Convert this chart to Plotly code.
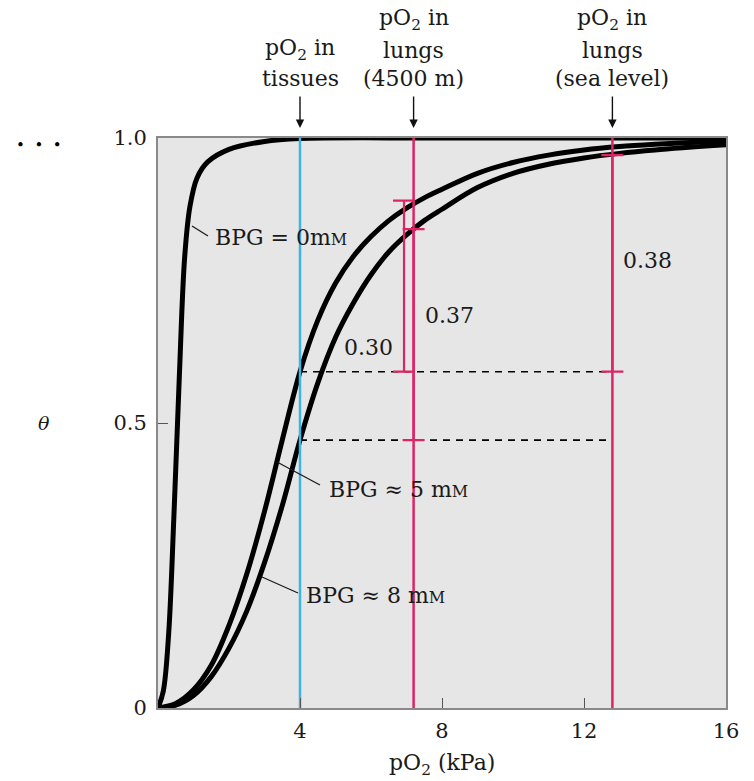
import plotly.graph_objects as go

# Oxygen-binding curves of haemoglobin at three BPG concentrations
po2_bpg0 = [0, 0.15, 0.3, 0.45, 0.6, 0.75, 0.9, 1.1, 1.4, 2.0, 3.0, 4.0, 8.0, 16.0]
theta_bpg0 = [0, 0.03, 0.13, 0.34, 0.58, 0.79, 0.88, 0.93, 0.958, 0.98, 0.994, 0.999, 1.0, 1.0]

po2_bpg5 = [0, 0.5, 1.0, 1.5, 2.0, 2.5, 3.0, 3.5, 4.0, 4.5, 5.0, 5.5, 6.0, 6.5, 7.0, 7.5, 8.0,
            9.0, 10.0, 11.0, 12.0, 13.0, 14.0, 16.0]
theta_bpg5 = [0, 0.008, 0.032, 0.075, 0.145, 0.235, 0.345, 0.47, 0.59, 0.68, 0.745, 0.792, 0.827,
              0.855, 0.877, 0.895, 0.91, 0.938, 0.957, 0.97, 0.979, 0.985, 0.989, 0.995]

po2_bpg8 = [0, 0.5, 1.0, 1.5, 2.0, 2.5, 3.0, 3.5, 4.0, 4.5, 5.0, 5.5, 6.0, 6.5, 7.0, 7.5, 8.0,
            9.0, 10.0, 11.0, 12.0, 13.0, 14.0, 16.0]
theta_bpg8 = [0, 0.005, 0.022, 0.055, 0.105, 0.17, 0.255, 0.355, 0.47, 0.57, 0.65, 0.71, 0.76,
              0.80, 0.83, 0.855, 0.875, 0.913, 0.938, 0.954, 0.965, 0.973, 0.979, 0.988]

# Reference pO2 values (kPa)
po2_tissues = 4.0
po2_lungs_4500 = 7.2
po2_lungs_sea = 12.8

# Saturation in tissues and the amounts of O2 delivered
theta_tissue_bpg5 = 0.59
theta_tissue_bpg8 = 0.47
delivered_4500_bpg5 = 0.30
delivered_4500_bpg8 = 0.37
delivered_sea_bpg5 = 0.38

x_ticks = [4, 8, 12, 16]
y_ticks = [0, 0.5, 1.0]
y_tick_text = ["0", "0.5", "1.0"]

SERIF = "DejaVu Serif"
INK = "#1a1a1a"
BLACK = "#000000"
CYAN = "#3fb3e6"
MAGENTA = "#dc2466"
TEXT_SIZE = 22
W, H = 754, 781
L, R, T, B = 158, 28, 138, 73


def paper_xy(px, py):
    """Convert a pixel position on the page into paper coordinates."""
    return (px - L) / (W - L - R), (H - B - py) / (H - T - B)


fig = go.Figure()

for xs, ys in [(po2_bpg0, theta_bpg0), (po2_bpg5, theta_bpg5), (po2_bpg8, theta_bpg8)]:
    fig.add_trace(go.Scatter(x=xs, y=ys, mode="lines",
                             line=dict(color=BLACK, width=5, shape="spline", smoothing=1.0),
                             hoverinfo="skip", showlegend=False))

# Dashed saturation levels in the tissues
for level in [theta_tissue_bpg5, theta_tissue_bpg8]:
    fig.add_trace(go.Scatter(x=[po2_tissues, po2_lungs_sea], y=[level, level], mode="lines",
                             line=dict(color=BLACK, width=1.6, dash="7px,6px"),
                             hoverinfo="skip", showlegend=False))

# Vertical pO2 markers
fig.add_trace(go.Scatter(x=[po2_tissues, po2_tissues], y=[0, 1], mode="lines",
                         line=dict(color=CYAN, width=2.5), hoverinfo="skip", showlegend=False))
for xv in [po2_lungs_4500, po2_lungs_sea]:
    fig.add_trace(go.Scatter(x=[xv, xv], y=[0, 1], mode="lines",
                             line=dict(color=MAGENTA, width=2.5), hoverinfo="skip", showlegend=False))

# Delivered-oxygen bars with end caps
bars = [
    (po2_lungs_4500 - 0.27, theta_tissue_bpg5, delivered_4500_bpg5),
    (po2_lungs_4500, theta_tissue_bpg8, delivered_4500_bpg8),
    (po2_lungs_sea, theta_tissue_bpg5, delivered_sea_bpg5),
]
for bx, base, delta in bars:
    fig.add_trace(go.Scatter(x=[bx], y=[base], mode="markers",
                             marker=dict(size=1, color="rgba(0,0,0,0)"),
                             error_y=dict(type="data", symmetric=False, array=[delta], arrayminus=[0],
                                          width=11, thickness=2.2, color=MAGENTA),
                             hoverinfo="skip", showlegend=False))

annotations = []


def label(text, px, py, size=TEXT_SIZE, xanchor="center", color=INK):
    xp, yp = paper_xy(px, py)
    annotations.append(dict(x=xp, y=yp, xref="paper", yref="paper", text=text, showarrow=False,
                            xanchor=xanchor, yanchor="middle",
                            font=dict(family=SERIF, size=size, color=color)))


# Value labels next to the bars
label(f"{delivered_4500_bpg5:.2f}", 368, 347)
label(f"{delivered_4500_bpg8:.2f}", 449, 315)
label(f"{delivered_sea_bpg5:.2f}", 647, 260)

# Curve labels with leader lines
small_m = "m<span style='font-size:16px'>M</span>"
for text, tx, ty, lx0, ly0, lx1, ly1 in [
    ("BPG = 0" + small_m, 213, 237, 192, 226, 208, 236),
    ("BPG ≈ 5 " + small_m, 327, 490, 277, 462, 320, 485),
    ("BPG ≈ 8 " + small_m, 304, 595, 262, 577, 298, 593),
]:
    label(text, tx, ty, xanchor="left")
    x0, y0 = paper_xy(lx0, ly0)
    x1, y1 = paper_xy(lx1, ly1)
    fig.add_shape(type="line", xref="paper", yref="paper", x0=x0, y0=y0, x1=x1, y1=y1,
                  line=dict(color=INK, width=1.3))

# Headers above the plot
headers = [
    (po2_tissues, ["pO<sub>2</sub> in", "tissues"], [50, 79]),
    (po2_lungs_4500, ["pO<sub>2</sub> in", "lungs", "(4500 m)"], [19, 51, 79]),
    (po2_lungs_sea, ["pO<sub>2</sub> in", "lungs", "(sea level)"], [19, 51, 79]),
]
for xv, lines, ys in headers:
    for line, py in zip(lines, ys):
        _, yp = paper_xy(0, py)
        annotations.append(dict(x=xv, y=yp, xref="x", yref="paper", text=line, showarrow=False,
                                xanchor="center", yanchor="middle",
                                font=dict(family=SERIF, size=TEXT_SIZE, color=INK)))
    _, ytip = paper_xy(0, 128)
    annotations.append(dict(x=xv, y=ytip, xref="x", yref="paper", text="", showarrow=True,
                            arrowhead=2, arrowsize=1.2, arrowwidth=1.4, arrowcolor="#111",
                            ax=0, ay=-33))

# Axis titles and corner mark
label("pO<sub>2</sub> (kPa)", 442, 764)
label("<i>θ</i>", 44, 423, size=19)
label("•  •  •", 39, 145, size=15, color="#000")

fig.update_layout(
    width=W, height=H,
    margin=dict(l=L, r=R, t=T, b=B),
    paper_bgcolor="white", plot_bgcolor="#e6e6e6",
    annotations=annotations,
    font=dict(family=SERIF, size=TEXT_SIZE, color=INK),
)
fig.update_xaxes(range=[0, 16], tickvals=x_ticks, ticks="inside", ticklen=10, tickwidth=1.2,
                 tickcolor="#555", showgrid=False, zeroline=False, showline=True, mirror=True,
                 linecolor="#8a8a8a", linewidth=2, tickfont=dict(family=SERIF, size=21, color=INK),
                 ticklabelstandoff=3, fixedrange=True)
fig.update_yaxes(range=[0, 1], tickvals=y_ticks, ticktext=y_tick_text, ticks="inside", ticklen=10,
                 tickwidth=1.2, tickcolor="#555", showgrid=False, zeroline=False, showline=True,
                 mirror=True, linecolor="#8a8a8a", linewidth=2,
                 tickfont=dict(family=SERIF, size=21, color=INK), ticklabelstandoff=5,
                 fixedrange=True)

fig.write_html("out.html")
